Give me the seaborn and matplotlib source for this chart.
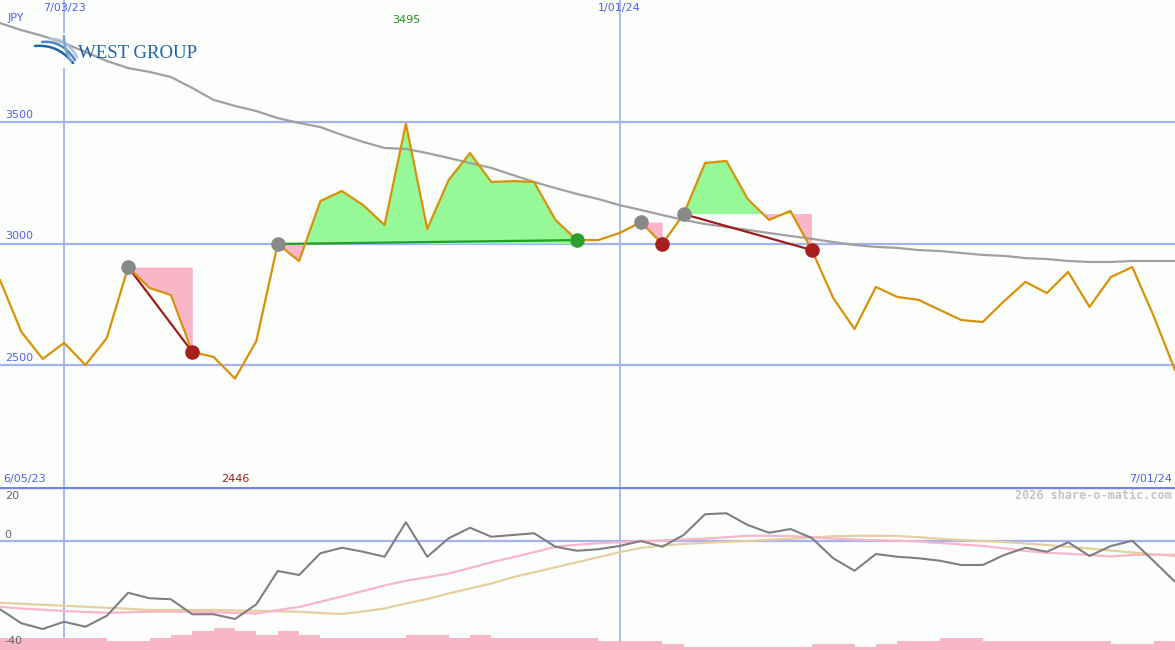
import numpy as np
import pandas as pd
import matplotlib
matplotlib.use("Agg")
import matplotlib.pyplot as plt
from matplotlib.patches import Rectangle
import seaborn as sns

# weekly closes (JPY)
price = [2852, 2638, 2527, 2593, 2502, 2613, 2905, 2819, 2790, 2556,
         2535, 2446, 2601, 3000, 2930, 3177, 3218, 3160, 3078, 3495,
         3062, 3263, 3374, 3255, 3259, 3255, 3099, 3016, 3016, 3045,
         3090, 3000, 3123, 3333, 3342, 3185, 3099, 3136, 2975, 2778,
         2650, 2823, 2782, 2770, 2728, 2687, 2679, 2765, 2844, 2798,
         2885, 2741, 2864, 2905, 2704, 2481]
# long moving average (grey)
ma_long = [3909, 3880, 3856, 3827, 3790, 3753, 3724, 3708, 3687, 3642,
           3593, 3568, 3547, 3518, 3498, 3481, 3449, 3420, 3395, 3391,
           3374, 3354, 3333, 3313, 3284, 3255, 3230, 3206, 3185, 3160,
           3140, 3119, 3099, 3082, 3070, 3058, 3045, 3033, 3021, 3008,
           2996, 2988, 2984, 2975, 2971, 2963, 2955, 2951, 2942, 2938,
           2930, 2926, 2926, 2930, 2930, 2930]
# lower panel oscillator and its averages
osc = [-27.3, -32.9, -35.2, -32.3, -34.3, -29.9, -20.7, -22.9, -23.3, -29.3,
       -29.3, -31.2, -25.3, -12.0, -13.6, -4.9, -2.7, -4.3, -6.3, 7.5,
       -6.3, 1.1, 5.3, 1.7, 2.4, 3.1, -2.3, -3.9, -3.3, -2.0,
       0.0, -2.3, 2.4, 10.7, 11.1, 6.4, 3.3, 4.8, 1.2, -6.9,
       -11.9, -5.2, -6.3, -6.9, -7.9, -9.6, -9.6, -5.6, -2.7, -4.3,
       -0.5, -6.0, -2.0, 0.1, -8.0, -16.3]
osc_fast = [-26.3, -27.0, -27.5, -28.0, -28.4, -28.7, -28.5, -28.3, -28.3, -28.3,
            -28.5, -28.8, -29.0, -27.6, -26.4, -24.3, -22.2, -20.0, -17.8, -15.9,
            -14.5, -13.0, -10.8, -8.5, -6.5, -4.5, -2.3, -1.5, -0.9, -0.5,
            -0.1, 0.2, 0.6, 0.9, 1.5, 2.1, 2.1, 2.0, 1.5, 1.0,
            0.6, 0.3, 0.1, -0.2, -0.8, -1.4, -2.0, -2.9, -4.0, -4.7,
            -5.1, -5.6, -6.2, -5.6, -5.5, -5.5]
osc_slow = [-24.7, -25.1, -25.5, -25.9, -26.3, -26.7, -27.1, -27.6, -27.6, -27.6,
            -27.6, -27.8, -27.9, -28.1, -28.3, -28.8, -29.2, -28.2, -27.0, -25.0,
            -23.2, -21.0, -19.0, -17.0, -14.5, -12.5, -10.5, -8.5, -6.5, -4.5,
            -2.8, -1.8, -1.2, -0.7, -0.3, 0.0, 0.5, 0.9, 1.4, 1.9,
            2.1, 2.1, 2.0, 1.5, 0.9, 0.4, 0.0, -0.4, -1.0, -1.6,
            -2.3, -3.0, -3.8, -4.6, -5.3, -6.0]
# pink histogram at the foot of the lower panel (one bar per week)
vol = [4.9, 4.9, 4.9, 4.9, 4.9, 3.6, 3.6, 4.9, 6.0, 7.6,
       8.9, 7.6, 6.0, 7.6, 6.0, 4.9, 4.9, 4.9, 4.9, 6.0,
       6.0, 4.9, 6.0, 4.9, 4.9, 4.9, 4.9, 4.9, 3.6, 3.6,
       3.6, 2.4, 1.3, 1.3, 1.3, 1.3, 1.3, 1.3, 2.4, 2.4,
       1.3, 2.4, 3.6, 3.6, 4.9, 4.9, 3.6, 3.6, 3.6, 3.6,
       3.6, 3.6, 2.4, 2.4, 3.6]

# trend segments: (start week, end week)
seg_down = [(6, 9), (30, 31)]
seg_up = [(13, 27), (32, 38)]
start_marks = [6, 13, 30, 32]
stop_marks = [9, 31, 38]
break_marks = [27]

dates = pd.date_range("2023-06-12", periods=len(price), freq="7D")
df = pd.DataFrame({"date": dates, "price": price, "ma": ma_long,
                   "osc": osc, "fast": osc_fast, "slow": osc_slow})

sns.set_style("white")
plt.rcParams["font.family"] = ["DejaVu Sans"]

BG = "#fcfefc"
GRID = "#a4b2f2"
TXT = "#5060ee"

fig = plt.figure(figsize=(11.75, 6.5), dpi=100, facecolor=BG)
ax = fig.add_axes([0, 163 / 650, 1, 487 / 650], facecolor=BG)
ax2 = fig.add_axes([0, 0, 1, 163 / 650], facecolor=BG)

for a in (ax, ax2):
    for s in a.spines.values():
        s.set_visible(False)
    a.set_xlim(dates[0], dates[-1])
    for d in ["2023-07-03", "2024-01-01"]:
        a.axvline(pd.Timestamp(d), color=GRID, lw=1.3, zorder=0)

# main panel
ax.set_ylim(2000, 4004)
for lv in [2500, 3000, 3500]:
    ax.axhline(lv, color=GRID, lw=1.6, zorder=0)

x = np.array(dates)
p = np.array(price, dtype=float)
for a0, b0 in seg_down + seg_up:
    lvl = p[a0]
    xs, ys = x[a0:b0 + 1], p[a0:b0 + 1]
    ax.fill_between(xs, lvl, ys, where=ys <= lvl, interpolate=True,
                    color="#f9b6c9", lw=0, zorder=1)
    if (a0, b0) in seg_up:
        ax.fill_between(xs, lvl, ys, where=ys >= lvl, interpolate=True,
                        color="#96f896", lw=0, zorder=1)

sns.lineplot(data=df, x="date", y="ma", ax=ax, color="#a0a0a0", lw=1.6, zorder=2)
for a0, b0 in seg_up:
    col = "#22a022" if b0 - a0 > 8 else "#a01c1c"
    ax.plot([x[a0], x[b0]], [p[a0], p[b0]], color=col, lw=1.6, zorder=3)
a0, b0 = seg_down[0]
ax.plot([x[a0], x[b0]], [p[a0], p[b0]], color="#a01c1c", lw=1.6, zorder=3)
sns.lineplot(data=df, x="date", y="price", ax=ax, color="#d8920a", lw=1.6, zorder=4)
ax.scatter(x[start_marks], p[start_marks], s=110, color="#888888", zorder=5, lw=0)
ax.scatter(x[stop_marks], p[stop_marks], s=110, color="#a81e1e", zorder=5, lw=0)
ax.scatter(x[break_marks], p[break_marks], s=110, color="#2ea02e", zorder=5, lw=0)
ax.set_xlabel("")
ax.set_ylabel("")
ax.set_xticks([])
ax.set_yticks([])

tr = ax.get_yaxis_transform()
for lv in [2500, 3000, 3500]:
    ax.text(0.004, lv + 12, str(lv), transform=tr, color=TXT, fontsize=8,
            ha="left", va="bottom")
ax.text(0.006, 0.963, "JPY", transform=ax.transAxes, color=TXT, fontsize=8,
        ha="left", va="center")
xt = ax.get_xaxis_transform()
for d, lab in [("2023-07-03", "7/03/23"), ("2024-01-01", "1/01/24")]:
    ax.text(pd.Timestamp(d), 0.993, lab, transform=xt, color=TXT, fontsize=8,
            ha="center", va="top")
imax = int(np.argmax(p))
imin = int(np.argmin(p))
ax.text(x[imax], 0.958, f"{int(p[imax])}", transform=xt, color="#1f8f1f",
        fontsize=8, ha="center", va="center")
ax.text(x[imin], 0.017, f"{int(p[imin])}", transform=xt, color="#a01c1c",
        fontsize=8, ha="center", va="center")
ax.text(0.003, 0.017, "6/05/23", transform=ax.transAxes, color=TXT,
        fontsize=8, ha="left", va="center")
ax.text(0.997, 0.017, "7/01/24", transform=ax.transAxes, color=TXT,
        fontsize=8, ha="right", va="center")

# logo: white box behind it, swoosh strands + wordmark (pixel positions in top panel)
W, H = 1175, 487
ax.add_patch(Rectangle((33 / W, 1 - 68 / H), 167 / W, 35 / H, transform=ax.transAxes,
                       facecolor=BG, edgecolor="none", zorder=0.5))
t = np.linspace(0, 1, 40)[:, None]
strands = [((35, 46), (58, 44), (73, 63), "#1f64a3"),
           ((42, 42), (62, 40), (75, 60), "#4f86c0"),
           ((50, 39), (66, 38), (77, 57), "#a9c4e2"),
           ((64, 36), (64, 50), (71, 61), "#7aa3d2")]
for p0, p1, p2, c in strands:
    pts = (1 - t) ** 2 * np.array(p0) + 2 * (1 - t) * t * np.array(p1) + t ** 2 * np.array(p2)
    ax.plot(pts[:, 0] / W, 1 - pts[:, 1] / H, transform=ax.transAxes,
            color=c, lw=1.8, zorder=6, solid_capstyle="round")
ax.text(78 / W, 1 - 54 / H, "WEST GROUP", transform=ax.transAxes,
        color="#1f64a3", fontsize=13.5, family="Liberation Serif",
        ha="left", va="center", zorder=6)

# lower panel
ax2.set_ylim(-43.6, 21.6)
ax2.axhline(0, color=GRID, lw=1.6, zorder=0)
ax2.axhline(21.6, color="#7383ec", lw=2.4, zorder=6)
ax2.bar(x[:-1], vol, width=pd.Timedelta(days=7), align="edge", bottom=-43.6,
        color="#f9b6c9", lw=0, zorder=1)
sns.lineplot(data=df, x="date", y="slow", ax=ax2, color="#e6cf9e", lw=1.6, zorder=2)
sns.lineplot(data=df, x="date", y="fast", ax=ax2, color="#f9b6c9", lw=1.6, zorder=3)
sns.lineplot(data=df, x="date", y="osc", ax=ax2, color="#7f7f7f", lw=1.5, zorder=4)
ax2.set_xlabel("")
ax2.set_ylabel("")
ax2.set_xticks([])
ax2.set_yticks([])
tr2 = ax2.get_yaxis_transform()
for lv, lab in [(18, "20"), (2.4, "0"), (-40, "-40")]:
    ax2.text(0.004, lv, lab, transform=tr2, color="#666666", fontsize=8,
             ha="left", va="center")
ax2.text(0.997, 0.945, "2026 share-o-matic.com", transform=ax2.transAxes,
         color="#c4c4c4", fontsize=8.5, family="DejaVu Sans Mono",
         fontweight="bold", ha="right", va="center")

fig.savefig("out.png", dpi=100, facecolor=BG)
